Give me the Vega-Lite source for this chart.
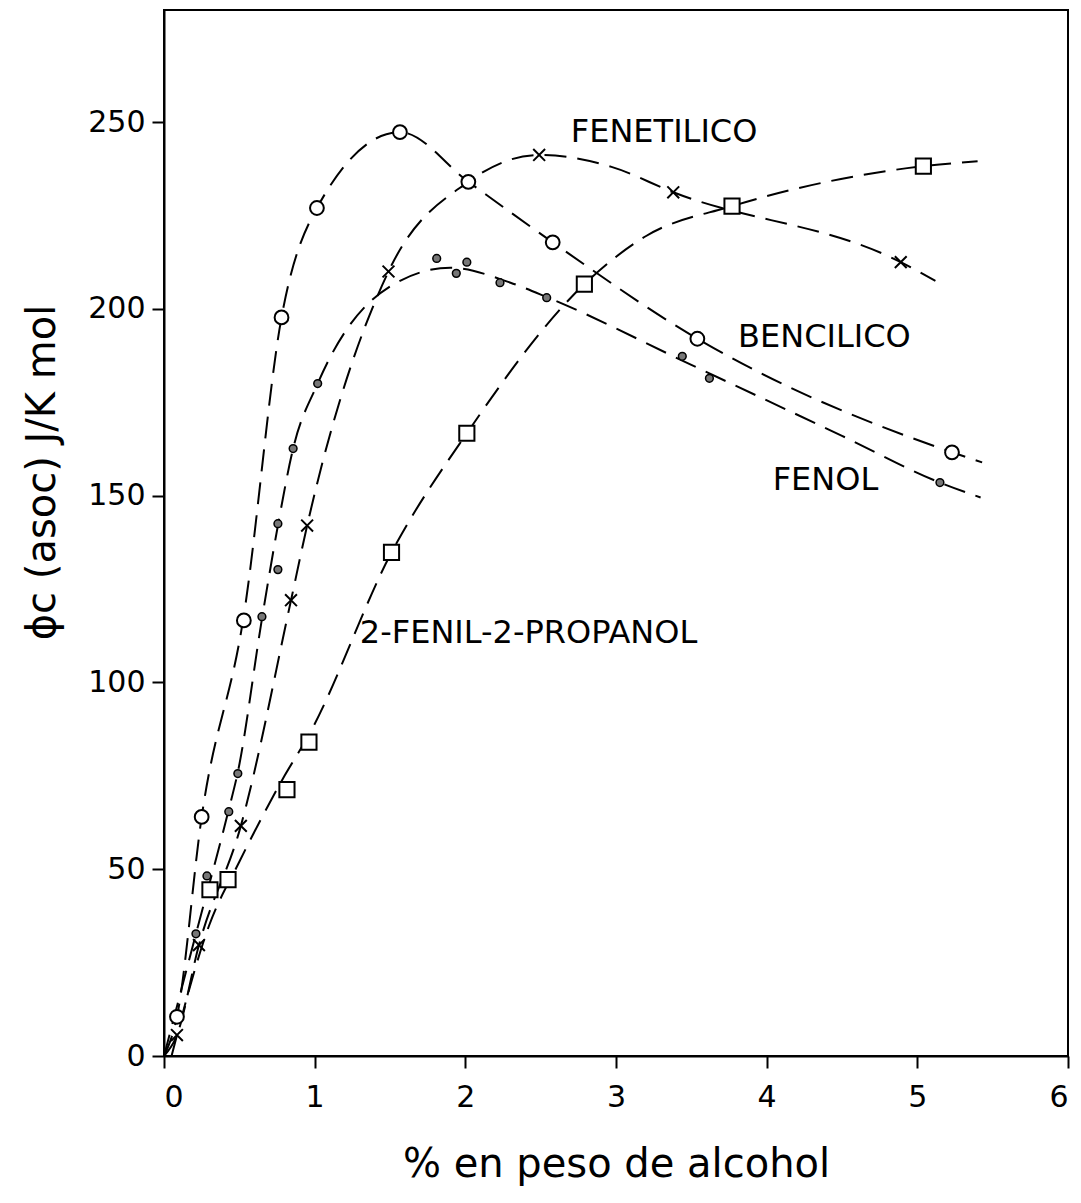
{
  "$schema": "https://vega.github.io/schema/vega-lite/v6.json",
  "width": 904,
  "height": 1046,
  "autosize": {"type": "none"},
  "padding": {"left": 164, "top": 10, "right": 13, "bottom": 147},
  "background": "white",
  "config": {
    "view": {"stroke": "black", "strokeWidth": 2},
    "font": "DejaVu Sans",
    "axis": {
      "grid": false,
      "domainColor": "black",
      "domainWidth": 2,
      "tickColor": "black",
      "tickWidth": 2,
      "tickSize": 12,
      "labelColor": "black",
      "labelFont": "DejaVu Sans",
      "labelFontSize": 30,
      "titleColor": "black",
      "titleFont": "DejaVu Sans",
      "titleFontWeight": "normal",
      "titleFontSize": 40
    }
  },
  "datasets": {
    "curves": [
      {"series": "BENCILICO", "x": 0, "y": 0},
      {"series": "BENCILICO", "x": 0.086, "y": 10.5},
      {"series": "BENCILICO", "x": 0.25, "y": 64},
      {"series": "BENCILICO", "x": 0.53, "y": 118},
      {"series": "BENCILICO", "x": 0.78, "y": 197.7},
      {"series": "BENCILICO", "x": 1.015, "y": 227},
      {"series": "BENCILICO", "x": 1.566, "y": 247.3},
      {"series": "BENCILICO", "x": 2.02, "y": 234},
      {"series": "BENCILICO", "x": 2.58, "y": 217.8},
      {"series": "BENCILICO", "x": 3.54, "y": 192},
      {"series": "BENCILICO", "x": 5.23, "y": 161.6},
      {"series": "BENCILICO", "x": 5.43, "y": 158.9},
      {"series": "FENETILICO", "x": 0, "y": 0},
      {"series": "FENETILICO", "x": 0.086, "y": 5.6},
      {"series": "FENETILICO", "x": 0.232, "y": 29.7},
      {"series": "FENETILICO", "x": 0.51, "y": 61.6},
      {"series": "FENETILICO", "x": 0.843, "y": 122},
      {"series": "FENETILICO", "x": 0.95, "y": 142},
      {"series": "FENETILICO", "x": 1.49, "y": 210},
      {"series": "FENETILICO", "x": 2.02, "y": 234},
      {"series": "FENETILICO", "x": 2.49, "y": 241.2},
      {"series": "FENETILICO", "x": 2.97, "y": 238},
      {"series": "FENETILICO", "x": 3.38, "y": 231.2},
      {"series": "FENETILICO", "x": 4.89, "y": 212.5},
      {"series": "FENETILICO", "x": 5.12, "y": 207.5},
      {"series": "FENOL", "x": 0, "y": 0},
      {"series": "FENOL", "x": 0.212, "y": 32.7},
      {"series": "FENOL", "x": 0.43, "y": 66},
      {"series": "FENOL", "x": 0.49, "y": 76},
      {"series": "FENOL", "x": 0.65, "y": 117},
      {"series": "FENOL", "x": 0.756, "y": 142},
      {"series": "FENOL", "x": 0.857, "y": 162.6},
      {"series": "FENOL", "x": 1.02, "y": 180},
      {"series": "FENOL", "x": 1.5, "y": 206},
      {"series": "FENOL", "x": 1.9, "y": 211},
      {"series": "FENOL", "x": 2.3, "y": 207},
      {"series": "FENOL", "x": 2.55, "y": 203},
      {"series": "FENOL", "x": 3.5, "y": 185},
      {"series": "FENOL", "x": 4.5, "y": 166},
      {"series": "FENOL", "x": 5.15, "y": 153.5},
      {"series": "FENOL", "x": 5.42, "y": 149.5},
      {"series": "PROPANOL", "x": 0.05, "y": 0},
      {"series": "PROPANOL", "x": 0.3, "y": 35},
      {"series": "PROPANOL", "x": 0.5, "y": 52},
      {"series": "PROPANOL", "x": 0.8, "y": 75},
      {"series": "PROPANOL", "x": 0.962, "y": 86},
      {"series": "PROPANOL", "x": 1.51, "y": 134.8},
      {"series": "PROPANOL", "x": 2.01, "y": 166.7},
      {"series": "PROPANOL", "x": 2.79, "y": 206.6},
      {"series": "PROPANOL", "x": 3.2, "y": 219.5},
      {"series": "PROPANOL", "x": 3.77, "y": 227.5},
      {"series": "PROPANOL", "x": 5.04, "y": 238.2},
      {"series": "PROPANOL", "x": 5.4, "y": 239.5}
    ],
    "points": [
      {"series": "BENCILICO", "x": 0.086, "y": 10.5},
      {"series": "BENCILICO", "x": 0.25, "y": 64},
      {"series": "BENCILICO", "x": 0.53, "y": 116.6},
      {"series": "BENCILICO", "x": 0.78, "y": 197.7},
      {"series": "BENCILICO", "x": 1.015, "y": 227},
      {"series": "BENCILICO", "x": 1.566, "y": 247.3},
      {"series": "BENCILICO", "x": 2.02, "y": 234},
      {"series": "BENCILICO", "x": 2.58, "y": 217.8},
      {"series": "BENCILICO", "x": 3.54, "y": 192},
      {"series": "BENCILICO", "x": 5.23, "y": 161.6},
      {"series": "FENETILICO", "x": 0.086, "y": 5.6},
      {"series": "FENETILICO", "x": 0.232, "y": 29.7},
      {"series": "FENETILICO", "x": 0.51, "y": 61.6},
      {"series": "FENETILICO", "x": 0.843, "y": 122},
      {"series": "FENETILICO", "x": 0.95, "y": 142},
      {"series": "FENETILICO", "x": 1.49, "y": 210},
      {"series": "FENETILICO", "x": 2.49, "y": 241.2},
      {"series": "FENETILICO", "x": 3.38, "y": 231.2},
      {"series": "FENETILICO", "x": 4.89, "y": 212.5},
      {"series": "FENOL", "x": 0.212, "y": 32.7},
      {"series": "FENOL", "x": 0.285, "y": 48.2},
      {"series": "FENOL", "x": 0.43, "y": 65.4},
      {"series": "FENOL", "x": 0.49, "y": 75.6},
      {"series": "FENOL", "x": 0.65, "y": 117.6},
      {"series": "FENOL", "x": 0.756, "y": 130.2},
      {"series": "FENOL", "x": 0.756, "y": 142.5},
      {"series": "FENOL", "x": 0.857, "y": 162.6},
      {"series": "FENOL", "x": 1.02, "y": 180},
      {"series": "FENOL", "x": 1.81, "y": 213.5},
      {"series": "FENOL", "x": 1.94, "y": 209.5},
      {"series": "FENOL", "x": 2.01, "y": 212.5},
      {"series": "FENOL", "x": 2.23, "y": 207},
      {"series": "FENOL", "x": 2.54, "y": 203},
      {"series": "FENOL", "x": 3.44, "y": 187.3},
      {"series": "FENOL", "x": 3.62, "y": 181.4},
      {"series": "FENOL", "x": 5.15, "y": 153.5},
      {"series": "PROPANOL", "x": 0.305, "y": 44.5},
      {"series": "PROPANOL", "x": 0.425, "y": 47.2},
      {"series": "PROPANOL", "x": 0.816, "y": 71.3},
      {"series": "PROPANOL", "x": 0.962, "y": 84},
      {"series": "PROPANOL", "x": 1.51, "y": 134.8},
      {"series": "PROPANOL", "x": 2.01, "y": 166.7},
      {"series": "PROPANOL", "x": 2.79, "y": 206.6},
      {"series": "PROPANOL", "x": 3.77, "y": 227.5},
      {"series": "PROPANOL", "x": 5.04, "y": 238.2}
    ],
    "labels": [
      {"label": "FENETILICO", "x": 2.7, "y": 247.3},
      {"label": "BENCILICO", "x": 3.81, "y": 192.4},
      {"label": "FENOL", "x": 4.04, "y": 154.3},
      {"label": "2-FENIL-2-PROPANOL", "x": 1.3, "y": 113.3}
    ]
  },
  "encoding": {
    "x": {
      "field": "x",
      "type": "quantitative",
      "scale": {"domain": [0, 6], "nice": false, "zero": false},
      "axis": {
        "values": [0, 1, 2, 3, 4, 5, 6],
        "title": "% en peso de alcohol",
        "labelPadding": 14,
        "titlePadding": 32
      }
    },
    "y": {
      "field": "y",
      "type": "quantitative",
      "scale": {"domain": [0, 280], "nice": false, "zero": false},
      "axis": {
        "values": [0, 50, 100, 150, 200, 250],
        "title": "ϕc (asoc)  J/K mol",
        "labelPadding": 7,
        "titleX": -102,
        "titleY": 462
      }
    }
  },
  "layer": [
    {
      "data": {"name": "curves"},
      "mark": {"type": "line", "interpolate": "monotone", "color": "black", "strokeWidth": 2, "strokeDash": [22, 11]},
      "encoding": {"detail": {"field": "series"}}
    },
    {
      "data": {"name": "points"},
      "transform": [{"filter": "datum.series === 'BENCILICO'"}],
      "mark": {"type": "point", "shape": "circle", "filled": true, "fill": "white", "stroke": "black", "strokeWidth": 2, "size": 190, "opacity": 1}
    },
    {
      "data": {"name": "points"},
      "transform": [{"filter": "datum.series === 'PROPANOL'"}],
      "mark": {"type": "point", "shape": "square", "filled": true, "fill": "white", "stroke": "black", "strokeWidth": 2, "size": 230, "opacity": 1}
    },
    {
      "data": {"name": "points"},
      "transform": [{"filter": "datum.series === 'FENETILICO'"}],
      "mark": {"type": "point", "shape": "M-1,-1L1,1M-1,1L1,-1", "filled": false, "stroke": "black", "strokeWidth": 2, "size": 140, "opacity": 1}
    },
    {
      "data": {"name": "points"},
      "transform": [{"filter": "datum.series === 'FENOL'"}],
      "mark": {"type": "point", "shape": "circle", "filled": true, "fill": "#777777", "stroke": "black", "strokeWidth": 1.5, "size": 60, "opacity": 1}
    },
    {
      "data": {"name": "labels"},
      "mark": {"type": "text", "align": "left", "baseline": "middle", "font": "DejaVu Sans", "fontSize": 32, "color": "black"},
      "encoding": {"text": {"field": "label"}}
    }
  ]
}
